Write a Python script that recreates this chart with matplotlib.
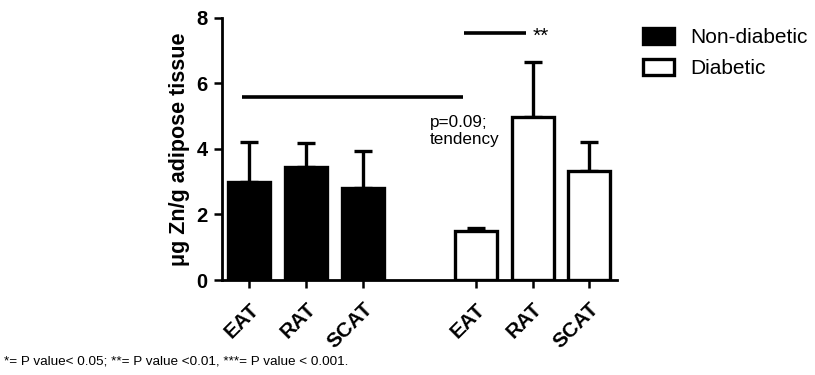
import matplotlib
matplotlib.use("Agg")
import matplotlib.pyplot as plt
from matplotlib.patches import Patch

plt.rcParams["font.family"] = ["Liberation Sans", "DejaVu Sans"]

categories = ["EAT", "RAT", "SCAT"]
nondiabetic = [3.0, 3.45, 2.8]
nondiabetic_err = [1.2, 0.72, 1.15]
diabetic = [1.5, 4.97, 3.34]
diabetic_err = [0.08, 1.68, 0.86]
tick_labels = categories + categories

fig = plt.figure(figsize=(8.15, 3.75), dpi=100)
ax = fig.add_axes([0.272, 0.2533, 0.485, 0.699])

pos_nd = [0, 1, 2]
pos_d = [4, 5, 6]
lw = 2.4
ax.bar(pos_nd, nondiabetic, width=0.74, color="black", edgecolor="black", linewidth=lw, zorder=2)
ax.errorbar(pos_nd, nondiabetic, yerr=[[0]*3, nondiabetic_err], fmt="none", ecolor="black",
            elinewidth=lw, capsize=6.5, capthick=lw, zorder=1)
ax.bar(pos_d, diabetic, width=0.74, color="white", edgecolor="black", linewidth=lw, zorder=2)
ax.errorbar(pos_d, diabetic, yerr=[[0]*3, diabetic_err], fmt="none", ecolor="black",
            elinewidth=lw, capsize=6.5, capthick=lw, zorder=1)

# significance lines
ax.plot([-0.14, 3.77], [5.59, 5.59], color="black", lw=2.6, solid_capstyle="butt")
ax.plot([3.79, 4.88], [7.54, 7.54], color="black", lw=2.6, solid_capstyle="butt")
ax.text(5.0, 7.45, "**", ha="left", va="center", fontsize=15)
ax.text(3.18, 4.55, "p=0.09;\ntendency", ha="left", va="center", fontsize=12.3, linespacing=1.2)

ax.set_xlim(-0.49, 6.49)
ax.set_ylim(0, 8)
ax.set_yticks([0, 2, 4, 6, 8])
ax.set_xticks(pos_nd + pos_d)
ax.set_xticklabels(tick_labels, rotation=45, ha="right", rotation_mode="anchor",
                   fontsize=15, fontweight="bold")
for lbl in ax.get_yticklabels():
    lbl.set_fontweight("bold")
    lbl.set_fontsize(14.5)
ax.tick_params(axis="both", width=1.8, length=6, direction="out")
ax.tick_params(axis="x", pad=8)
ax.tick_params(axis="y", pad=4)
for s in ["top", "right"]:
    ax.spines[s].set_visible(False)
for s in ["left", "bottom"]:
    ax.spines[s].set_linewidth(2)
ax.set_ylabel("\u03bcg Zn/g adipose tissue", fontsize=15.5, fontweight="bold", labelpad=5)

handles = [Patch(facecolor="black", edgecolor="black", linewidth=2.4, label="Non-diabetic"),
           Patch(facecolor="white", edgecolor="black", linewidth=2.4, label="Diabetic")]
fig.legend(handles=handles, loc="upper left", bbox_to_anchor=(0.766, 0.975), frameon=False,
           fontsize=15, handlelength=1.5, handleheight=0.8, handletextpad=0.75, labelspacing=0.55)

fig.text(0.005, 0.035, "*= P value< 0.05; **= P value <0.01, ***= P value < 0.001.", fontsize=9.7,
         ha="left", va="center")

fig.savefig("out.png", dpi=100)
